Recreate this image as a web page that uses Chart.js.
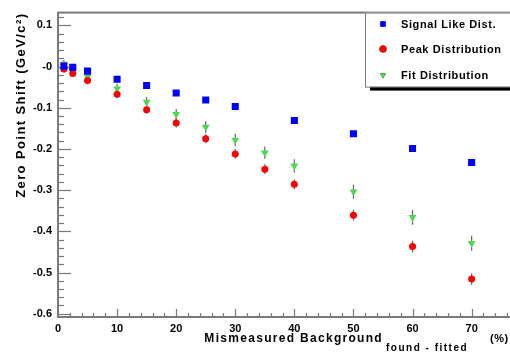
<!DOCTYPE html>
<html>
<head>
<meta charset="utf-8">
<script src="https://cdn.jsdelivr.net/npm/chart.js@4"></script>
<style>
  html, body { margin: 0; padding: 0; background: #fff; overflow: hidden; }
  canvas { display: block; }
</style>
</head>
<body>
<canvas id="shift-chart" width="520" height="352"></canvas>
<script>
// mismeasured background fraction (%)
const bkgX = [1, 2.5, 5, 10, 15, 20, 25, 30, 35, 40, 50, 60, 70];
const signalX = [1, 2.5, 5, 10, 15, 20, 25, 30, 40, 50, 60, 70];

// zero point shift (GeV/c^2) and errors
const signalShift = [0.001, -0.002, -0.011, -0.031, -0.046, -0.064, -0.081, -0.097, -0.131, -0.163, -0.199, -0.233];
const signalErr = [0.003, 0.003, 0.004, 0.004, 0.004, 0.004, 0.004, 0.004, 0.004, 0.004, 0.004, 0.004];
const peakShift = [-0.006, -0.017, -0.034, -0.067, -0.105, -0.137, -0.175, -0.212, -0.249, -0.286, -0.361, -0.437, -0.516];
const peakErr = [0.008, 0.008, 0.009, 0.01, 0.01, 0.011, 0.011, 0.012, 0.012, 0.012, 0.013, 0.014, 0.014];
const fitShift = [0.006, -0.009, -0.025, -0.054, -0.086, -0.116, -0.147, -0.178, -0.209, -0.241, -0.304, -0.366, -0.429];
const fitErr = [0.01, 0.01, 0.011, 0.012, 0.012, 0.013, 0.014, 0.015, 0.015, 0.016, 0.017, 0.018, 0.018];

const xTicks = [0, 10, 20, 30, 40, 50, 60, 70];
const yTicks = [-0.6, -0.5, -0.4, -0.3, -0.2, -0.1, 0, 0.1];
const seriesNames = ['Signal Like Dist.', 'Peak Distribution', 'Fit Distribution'];

const pts = (xs, ys, es) => xs.map((x, i) => ({ x: x, y: ys[i], err: es[i] }));
const FRAME = '#7a7a7a';

// ROOT style frame with inward ticks, error bars under the markers
const frameTicks = {
	id: 'frameTicks',
	beforeDatasetsDraw(chart) {
		const c = chart.ctx, a = chart.chartArea;
		const xs = chart.scales.x, ys = chart.scales.y;
		c.save();
		// error bars
		c.strokeStyle = '#666';
		c.lineWidth = 1.2;
		chart.data.datasets.forEach((ds, di) => {
			const meta = chart.getDatasetMeta(di);
			ds.data.forEach((p, i) => {
				const el = meta.data[i];
				c.beginPath();
				c.moveTo(el.x, ys.getPixelForValue(p.y + p.err));
				c.lineTo(el.x, ys.getPixelForValue(p.y - p.err));
				c.stroke();
			});
		});
		// frame
		c.strokeStyle = FRAME;
		c.lineWidth = 2;
		c.strokeRect(a.left, a.top, a.right - a.left, a.bottom - a.top);
		// y ticks every 0.02, major every 0.1
		c.lineWidth = 1.2;
		for (let k = -30; k <= 6; k++) {
			const v = k * 0.02;
			if (v < ys.min || v > ys.max) continue;
			const py = Math.round(ys.getPixelForValue(v)) + 0.5;
			const len = k % 5 === 0 ? 13 : 6;
			c.beginPath();
			c.moveTo(a.left, py);
			c.lineTo(a.left + len, py);
			c.stroke();
		}
		// x ticks every 2, major every 10
		for (let v = 0; v <= xs.max; v += 2) {
			const px = Math.round(xs.getPixelForValue(v)) + 0.5;
			const len = v % 10 === 0 ? 8 : 4;
			c.beginPath();
			c.moveTo(px, a.bottom);
			c.lineTo(px, a.bottom - len);
			c.stroke();
		}
		c.restore();
	},
	afterDraw(chart) {
		const c = chart.ctx, a = chart.chartArea;
		c.save();
		c.fillStyle = '#000';
		// axis titles
		c.font = 'bold 12px "Liberation Sans"';
		c.letterSpacing = '1.3px';
		c.textBaseline = 'middle';
		c.textAlign = 'right';
		c.fillText('Mismeasured Background', 383, 339);
		c.font = 'bold 10px "Liberation Sans"';
		c.letterSpacing = '1.5px';
		c.textAlign = 'left';
		c.fillText('found - fitted', 386, 348);
		c.font = 'bold 11px "Liberation Sans"';
		c.letterSpacing = '0.5px';
		c.fillText('(%)', 490, 339);
		c.translate(21, a.top);
		c.rotate(-Math.PI / 2);
		c.textAlign = 'right';
		c.font = 'bold 13px "Liberation Sans"';
		c.letterSpacing = '1.4px';
		c.fillText('Zero Point Shift (GeV/c\u00b2)', 0, 0);
		c.restore();

		// legend box with shadow
		c.save();
		const bx = 365, by = a.top, bw = 160, bh = 74;
		c.fillStyle = '#000';
		c.fillRect(bx + 5, by + bh, bw, 4);
		c.fillStyle = '#fff';
		c.fillRect(bx, by, bw, bh);
		c.strokeStyle = FRAME;
		c.lineWidth = 1;
		c.strokeRect(bx + 0.5, by + 0.5, bw, bh);
		const rows = [24, 49, 75];
		chart.data.datasets.forEach((ds, i) => {
			Chart.helpers.drawPoint(c, {
				pointStyle: ds.pointStyle,
				rotation: ds.rotation || 0,
				radius: i === 0 ? 4 : 3.5
			}, 383, rows[i]);
			c.fillStyle = ds.backgroundColor;
			c.fill();
			c.fillStyle = '#000';
			c.font = 'bold 11px "Liberation Sans"';
			c.letterSpacing = '0.6px';
			c.textAlign = 'left';
			c.textBaseline = 'middle';
			c.fillText(seriesNames[i], 401, rows[i] + 1);
		});
		c.restore();
	}
};

new Chart(document.getElementById('shift-chart'), {
	type: 'scatter',
	data: {
		datasets: [
			{
				label: seriesNames[0],
				data: pts(signalX, signalShift, signalErr),
				pointStyle: 'rect',
				pointRadius: 5,
				backgroundColor: '#0000ff',
				borderColor: '#0000ff',
				borderWidth: 0
			},
			{
				label: seriesNames[1],
				data: pts(bkgX, peakShift, peakErr),
				pointStyle: 'circle',
				pointRadius: 3.5,
				backgroundColor: '#ff0000',
				borderColor: '#ff0000',
				borderWidth: 0
			},
			{
				label: seriesNames[2],
				data: pts(bkgX, fitShift, fitErr),
				pointStyle: 'triangle',
				rotation: 180,
				pointRadius: 4.5,
				backgroundColor: '#4fd84f',
				borderColor: '#4fd84f',
				borderWidth: 0
			}
		]
	},
	options: {
		responsive: false,
		animation: false,
		layout: { padding: { top: 12, right: 7, left: 0, bottom: 0 } },
		plugins: {
			legend: { display: false },
			tooltip: { enabled: false }
		},
		scales: {
			x: {
				type: 'linear',
				min: 0,
				max: 77,
				afterBuildTicks: s => { s.ticks = xTicks.map(v => ({ value: v })); },
				afterFit: s => { s.height = 35; },
				grid: { display: false, drawTicks: false },
				border: { display: false },
				ticks: {
					padding: 5,
					maxRotation: 0,
					color: '#000',
					font: { family: 'Liberation Sans', size: 11, weight: 'bold' }
				}
			},
			y: {
				min: -0.608,
				max: 0.131,
				afterBuildTicks: s => { s.ticks = yTicks.map(v => ({ value: v })); },
				afterFit: s => { s.width = 58; },
				grid: { display: false, drawTicks: false },
				border: { display: false },
				ticks: {
					padding: 6,
					color: '#000',
					font: { family: 'Liberation Sans', size: 11, weight: 'bold' },
					callback: v => (Math.abs(v) < 1e-9 ? '-0' : v.toFixed(1))
				}
			}
		}
	},
	plugins: [frameTicks]
});
</script>
</body>
</html>
